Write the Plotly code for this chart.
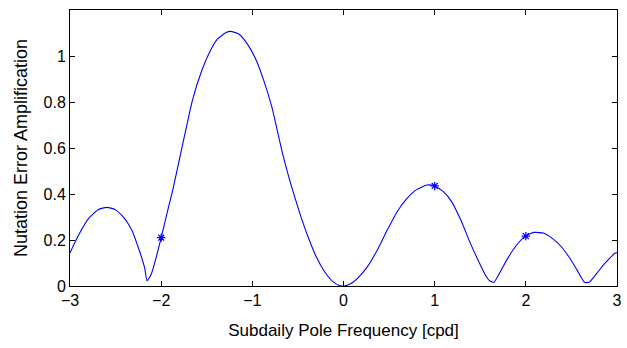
import plotly.graph_objects as go

# Curve samples
freq = [-3.0, -2.905, -2.796, -2.687, -2.596, -2.506, -2.416, -2.325, -2.235, -2.18,
        -2.155, -2.108, -2.053, -2.0, -1.909, -1.873, -1.746, -1.656, -1.565, -1.474,
        -1.384, -1.293, -1.239, -1.149, -1.059, -0.967, -0.877, -0.787, -0.66, -0.57,
        -0.479, -0.389, -0.299, -0.207, -0.117, -0.045, 0.01, 0.045, 0.1, 0.154,
        0.263, 0.371, 0.48, 0.588, 0.697, 0.806, 0.914, 0.998, 1.096, 1.186,
        1.294, 1.384, 1.475, 1.566, 1.602, 1.649, 1.71, 1.801, 1.891, 1.993,
        2.09, 2.199, 2.29, 2.38, 2.47, 2.561, 2.644, 2.695, 2.778, 2.869,
        2.977, 3.0]
ampl = [0.145, 0.222, 0.294, 0.333, 0.342, 0.333, 0.301, 0.246, 0.149, 0.077,
        0.023, 0.052, 0.127, 0.21, 0.36, 0.417, 0.649, 0.809, 0.925, 1.012,
        1.073, 1.101, 1.107, 1.096, 1.055, 0.99, 0.896, 0.78, 0.562, 0.432,
        0.316, 0.214, 0.127, 0.062, 0.019, 0.002, 0.0, 0.004, 0.015, 0.033,
        0.084, 0.157, 0.243, 0.323, 0.381, 0.42, 0.439, 0.435, 0.41, 0.367,
        0.28, 0.193, 0.113, 0.041, 0.023, 0.016, 0.055, 0.12, 0.174, 0.217,
        0.233, 0.229, 0.207, 0.175, 0.128, 0.07, 0.016, 0.016, 0.055, 0.099,
        0.142, 0.145]

# Marked frequencies
star_freq = [-2.0, 1.0, 2.0]
star_ampl = [0.21, 0.435, 0.217]

x_ticks = [-3, -2, -1, 0, 1, 2, 3]
y_ticks = [0, 0.2, 0.4, 0.6, 0.8, 1.0]
y_tick_text = ["0", "0.2", "0.4", "0.6", "0.8", "1"]

fig = go.Figure()
fig.add_trace(go.Scatter(x=freq, y=ampl, mode="lines",
                         line=dict(color="#0000ff", width=1.1, shape="spline", smoothing=0.5),
                         showlegend=False))
fig.add_trace(go.Scatter(x=star_freq, y=star_ampl, mode="markers",
                         marker=dict(symbol="asterisk-open", size=7, color="#0000ff",
                                     line=dict(color="#0000ff", width=1.2)),
                         showlegend=False))

font = "Liberation Sans, Arial, Helvetica, sans-serif"
axis_common = dict(showline=True, linecolor="black", linewidth=1, mirror="ticks",
                   ticks="inside", ticklen=5, tickcolor="black", tickwidth=1,
                   showgrid=False, zeroline=False,
                   tickfont=dict(family=font, size=16, color="black"))

fig.update_layout(
    width=627, height=348,
    margin=dict(l=70, r=5, t=10, b=62),
    paper_bgcolor="white", plot_bgcolor="white",
    font=dict(family=font, size=16, color="black"),
    xaxis=dict(range=[-3, 3], tickvals=x_ticks,
               title=dict(text="Subdaily Pole Frequency [cpd]", font=dict(size=17), standoff=15),
               **axis_common),
    yaxis=dict(range=[0, 1.2], tickvals=y_ticks, ticktext=y_tick_text,
               title=dict(text="Nutation Error Amplification", font=dict(size=18), standoff=11),
               **axis_common),
)

fig.write_html("out.html")
